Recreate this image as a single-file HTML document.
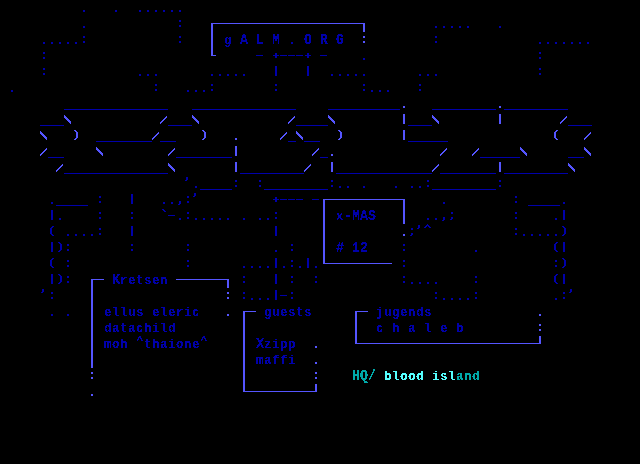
<!DOCTYPE html>
<html lang="en">
<head>
<meta charset="utf-8">
<title>gALM.ORG x-MAS #12</title>
<style>
html,body{margin:0;padding:0;background:#000;}
body{width:640px;height:464px;overflow:hidden;}
svg{display:block;}
text{font-family:"Liberation Mono","DejaVu Sans Mono",monospace;font-weight:bold;font-size:15px;white-space:pre;}
</style>
</head>
<body>
<svg width="640" height="464" viewBox="0 0 640 464">
<rect width="640" height="464" fill="#000"/>
<filter id="px" x="0" y="0" width="640" height="464" filterUnits="userSpaceOnUse" color-interpolation-filters="sRGB"><feComponentTransfer><feFuncA type="discrete" tableValues="0 0 1 1 1"/></feComponentTransfer></filter>
<g fill="#0000aa" shape-rendering="crispEdges">
<rect x="83" y="10" width="2" height="2"/><rect x="115" y="10" width="2" height="2"/><rect x="139" y="10" width="2" height="2"/><rect x="147" y="10" width="2" height="2"/><rect x="155" y="10" width="2" height="2"/><rect x="163" y="10" width="2" height="2"/><rect x="171" y="10" width="2" height="2"/><rect x="179" y="10" width="2" height="2"/><rect x="179" y="20" width="2" height="2"/><rect x="179" y="25" width="2" height="2"/><rect x="83" y="26" width="2" height="2"/><rect x="435" y="26" width="2" height="2"/><rect x="443" y="26" width="2" height="2"/><rect x="451" y="26" width="2" height="2"/><rect x="459" y="26" width="2" height="2"/><rect x="467" y="26" width="2" height="2"/><rect x="499" y="26" width="2" height="2"/><rect x="83" y="36" width="2" height="2"/><rect x="179" y="36" width="2" height="2"/><rect x="435" y="36" width="2" height="2"/><rect x="83" y="41" width="2" height="2"/><rect x="179" y="41" width="2" height="2"/><rect x="435" y="41" width="2" height="2"/><rect x="43" y="42" width="2" height="2"/><rect x="51" y="42" width="2" height="2"/><rect x="59" y="42" width="2" height="2"/><rect x="67" y="42" width="2" height="2"/><rect x="75" y="42" width="2" height="2"/><rect x="539" y="42" width="2" height="2"/><rect x="547" y="42" width="2" height="2"/><rect x="555" y="42" width="2" height="2"/><rect x="563" y="42" width="2" height="2"/><rect x="571" y="42" width="2" height="2"/><rect x="579" y="42" width="2" height="2"/><rect x="587" y="42" width="2" height="2"/><rect x="43" y="52" width="2" height="2"/><rect x="539" y="52" width="2" height="2"/><rect x="275" y="53" width="2" height="2"/><rect x="307" y="53" width="2" height="2"/><rect x="256" y="55" width="7" height="1"/><rect x="273" y="55" width="6" height="1"/><rect x="280" y="55" width="7" height="1"/><rect x="288" y="55" width="7" height="1"/><rect x="296" y="55" width="7" height="1"/><rect x="305" y="55" width="6" height="1"/><rect x="320" y="55" width="7" height="1"/><rect x="275" y="56" width="2" height="2"/><rect x="307" y="56" width="2" height="2"/><rect x="43" y="57" width="2" height="2"/><rect x="539" y="57" width="2" height="2"/><rect x="363" y="58" width="2" height="2"/><rect x="275" y="66" width="2" height="10"/><rect x="307" y="66" width="2" height="10"/><rect x="43" y="68" width="2" height="2"/><rect x="539" y="68" width="2" height="2"/><rect x="43" y="73" width="2" height="2"/><rect x="539" y="73" width="2" height="2"/><rect x="139" y="74" width="2" height="2"/><rect x="147" y="74" width="2" height="2"/><rect x="155" y="74" width="2" height="2"/><rect x="211" y="74" width="2" height="2"/><rect x="219" y="74" width="2" height="2"/><rect x="227" y="74" width="2" height="2"/><rect x="235" y="74" width="2" height="2"/><rect x="243" y="74" width="2" height="2"/><rect x="331" y="74" width="2" height="2"/><rect x="339" y="74" width="2" height="2"/><rect x="347" y="74" width="2" height="2"/><rect x="355" y="74" width="2" height="2"/><rect x="363" y="74" width="2" height="2"/><rect x="419" y="74" width="2" height="2"/><rect x="427" y="74" width="2" height="2"/><rect x="435" y="74" width="2" height="2"/><rect x="155" y="84" width="2" height="2"/><rect x="211" y="84" width="2" height="2"/><rect x="275" y="84" width="2" height="2"/><rect x="363" y="84" width="2" height="2"/><rect x="419" y="84" width="2" height="2"/><rect x="155" y="89" width="2" height="2"/><rect x="211" y="89" width="2" height="2"/><rect x="275" y="89" width="2" height="2"/><rect x="363" y="89" width="2" height="2"/><rect x="419" y="89" width="2" height="2"/><rect x="11" y="90" width="2" height="2"/><rect x="187" y="90" width="2" height="2"/><rect x="195" y="90" width="2" height="2"/><rect x="203" y="90" width="2" height="2"/><rect x="371" y="90" width="2" height="2"/><rect x="379" y="90" width="2" height="2"/><rect x="387" y="90" width="2" height="2"/><rect x="64" y="109" width="104" height="1"/><rect x="192" y="109" width="104" height="1"/><rect x="328" y="109" width="72" height="1"/><rect x="432" y="109" width="64" height="1"/><rect x="504" y="109" width="64" height="1"/><rect x="40" y="125" width="24" height="1"/><rect x="168" y="125" width="24" height="1"/><rect x="296" y="125" width="32" height="1"/><rect x="408" y="125" width="24" height="1"/><rect x="568" y="125" width="24" height="1"/><rect x="96" y="141" width="56" height="1"/><rect x="160" y="141" width="16" height="1"/><rect x="288" y="141" width="8" height="1"/><rect x="304" y="141" width="16" height="1"/><rect x="408" y="141" width="40" height="1"/><rect x="48" y="157" width="16" height="1"/><rect x="176" y="157" width="56" height="1"/><rect x="320" y="157" width="8" height="1"/><rect x="480" y="157" width="40" height="1"/><rect x="568" y="157" width="16" height="1"/><rect x="64" y="173" width="104" height="1"/><rect x="240" y="173" width="64" height="1"/><rect x="336" y="173" width="96" height="1"/><rect x="440" y="173" width="56" height="1"/><rect x="504" y="173" width="64" height="1"/><rect x="186" y="177" width="2" height="3"/><rect x="185" y="180" width="2" height="1"/><rect x="235" y="180" width="2" height="2"/><rect x="259" y="180" width="2" height="2"/><rect x="331" y="180" width="2" height="2"/><rect x="427" y="180" width="2" height="2"/><rect x="499" y="180" width="2" height="2"/><rect x="235" y="185" width="2" height="2"/><rect x="259" y="185" width="2" height="2"/><rect x="331" y="185" width="2" height="2"/><rect x="427" y="185" width="2" height="2"/><rect x="499" y="185" width="2" height="2"/><rect x="195" y="186" width="2" height="2"/><rect x="339" y="186" width="2" height="2"/><rect x="347" y="186" width="2" height="2"/><rect x="363" y="186" width="2" height="2"/><rect x="395" y="186" width="2" height="2"/><rect x="411" y="186" width="2" height="2"/><rect x="419" y="186" width="2" height="2"/><rect x="200" y="189" width="32" height="1"/><rect x="264" y="189" width="64" height="1"/><rect x="432" y="189" width="64" height="1"/><rect x="194" y="193" width="2" height="3"/><rect x="131" y="194" width="2" height="10"/><rect x="99" y="196" width="2" height="2"/><rect x="187" y="196" width="2" height="2"/><rect x="193" y="196" width="2" height="1"/><rect x="515" y="196" width="2" height="2"/><rect x="275" y="197" width="2" height="2"/><rect x="273" y="199" width="6" height="1"/><rect x="280" y="199" width="7" height="1"/><rect x="288" y="199" width="7" height="1"/><rect x="296" y="199" width="7" height="1"/><rect x="312" y="199" width="7" height="1"/><rect x="275" y="200" width="2" height="2"/><rect x="99" y="201" width="2" height="2"/><rect x="179" y="201" width="2" height="3"/><rect x="187" y="201" width="2" height="2"/><rect x="515" y="201" width="2" height="2"/><rect x="51" y="202" width="2" height="2"/><rect x="163" y="202" width="2" height="2"/><rect x="171" y="202" width="2" height="2"/><rect x="443" y="202" width="2" height="2"/><rect x="563" y="202" width="2" height="2"/><rect x="178" y="204" width="2" height="1"/><rect x="56" y="205" width="32" height="1"/><rect x="528" y="205" width="32" height="1"/><rect x="162" y="209" width="2" height="1"/><rect x="51" y="210" width="2" height="10"/><rect x="163" y="210" width="2" height="1"/><rect x="563" y="210" width="2" height="10"/><rect x="164" y="211" width="2" height="1"/><rect x="99" y="212" width="2" height="2"/><rect x="131" y="212" width="2" height="2"/><rect x="187" y="212" width="2" height="2"/><rect x="275" y="212" width="2" height="2"/><rect x="451" y="212" width="2" height="2"/><rect x="515" y="212" width="2" height="2"/><rect x="168" y="215" width="7" height="1"/><rect x="99" y="217" width="2" height="2"/><rect x="131" y="217" width="2" height="2"/><rect x="187" y="217" width="2" height="2"/><rect x="275" y="217" width="2" height="2"/><rect x="443" y="217" width="2" height="3"/><rect x="451" y="217" width="2" height="2"/><rect x="515" y="217" width="2" height="2"/><rect x="59" y="218" width="2" height="2"/><rect x="179" y="218" width="2" height="2"/><rect x="195" y="218" width="2" height="2"/><rect x="203" y="218" width="2" height="2"/><rect x="211" y="218" width="2" height="2"/><rect x="219" y="218" width="2" height="2"/><rect x="227" y="218" width="2" height="2"/><rect x="243" y="218" width="2" height="2"/><rect x="259" y="218" width="2" height="2"/><rect x="267" y="218" width="2" height="2"/><rect x="427" y="218" width="2" height="2"/><rect x="435" y="218" width="2" height="2"/><rect x="555" y="218" width="2" height="2"/><rect x="450" y="219" width="2" height="1"/><rect x="442" y="220" width="2" height="1"/><rect x="427" y="224" width="1" height="1"/><rect x="418" y="225" width="2" height="3"/><rect x="426" y="225" width="3" height="1"/><rect x="52" y="226" width="2" height="1"/><rect x="131" y="226" width="2" height="10"/><rect x="275" y="226" width="2" height="10"/><rect x="425" y="226" width="2" height="1"/><rect x="428" y="226" width="2" height="1"/><rect x="562" y="226" width="2" height="1"/><rect x="51" y="227" width="2" height="1"/><rect x="424" y="227" width="2" height="1"/><rect x="429" y="227" width="2" height="1"/><rect x="563" y="227" width="2" height="1"/><rect x="50" y="228" width="2" height="6"/><rect x="99" y="228" width="2" height="2"/><rect x="411" y="228" width="2" height="2"/><rect x="417" y="228" width="2" height="1"/><rect x="515" y="228" width="2" height="2"/><rect x="564" y="228" width="2" height="6"/><rect x="99" y="233" width="2" height="2"/><rect x="411" y="233" width="2" height="2"/><rect x="515" y="233" width="2" height="2"/><rect x="51" y="234" width="2" height="1"/><rect x="67" y="234" width="2" height="2"/><rect x="75" y="234" width="2" height="2"/><rect x="83" y="234" width="2" height="2"/><rect x="91" y="234" width="2" height="2"/><rect x="523" y="234" width="2" height="2"/><rect x="531" y="234" width="2" height="2"/><rect x="539" y="234" width="2" height="2"/><rect x="547" y="234" width="2" height="2"/><rect x="555" y="234" width="2" height="2"/><rect x="563" y="234" width="2" height="1"/><rect x="52" y="235" width="2" height="1"/><rect x="410" y="235" width="2" height="1"/><rect x="562" y="235" width="2" height="1"/><rect x="51" y="242" width="2" height="10"/><rect x="58" y="242" width="2" height="1"/><rect x="556" y="242" width="2" height="1"/><rect x="563" y="242" width="2" height="10"/><rect x="59" y="243" width="2" height="1"/><rect x="555" y="243" width="2" height="1"/><rect x="60" y="244" width="2" height="6"/><rect x="67" y="244" width="2" height="2"/><rect x="131" y="244" width="2" height="2"/><rect x="187" y="244" width="2" height="2"/><rect x="291" y="244" width="2" height="2"/><rect x="403" y="244" width="2" height="2"/><rect x="554" y="244" width="2" height="6"/><rect x="67" y="249" width="2" height="2"/><rect x="131" y="249" width="2" height="2"/><rect x="187" y="249" width="2" height="2"/><rect x="291" y="249" width="2" height="2"/><rect x="403" y="249" width="2" height="2"/><rect x="59" y="250" width="2" height="1"/><rect x="275" y="250" width="2" height="2"/><rect x="475" y="250" width="2" height="2"/><rect x="555" y="250" width="2" height="1"/><rect x="58" y="251" width="2" height="1"/><rect x="556" y="251" width="2" height="1"/><rect x="52" y="258" width="2" height="1"/><rect x="275" y="258" width="2" height="10"/><rect x="307" y="258" width="2" height="10"/><rect x="562" y="258" width="2" height="1"/><rect x="51" y="259" width="2" height="1"/><rect x="563" y="259" width="2" height="1"/><rect x="50" y="260" width="2" height="6"/><rect x="67" y="260" width="2" height="2"/><rect x="187" y="260" width="2" height="2"/><rect x="291" y="260" width="2" height="2"/><rect x="403" y="260" width="2" height="2"/><rect x="555" y="260" width="2" height="2"/><rect x="564" y="260" width="2" height="6"/><rect x="67" y="265" width="2" height="2"/><rect x="187" y="265" width="2" height="2"/><rect x="291" y="265" width="2" height="2"/><rect x="403" y="265" width="2" height="2"/><rect x="555" y="265" width="2" height="2"/><rect x="51" y="266" width="2" height="1"/><rect x="243" y="266" width="2" height="2"/><rect x="251" y="266" width="2" height="2"/><rect x="259" y="266" width="2" height="2"/><rect x="267" y="266" width="2" height="2"/><rect x="283" y="266" width="2" height="2"/><rect x="299" y="266" width="2" height="2"/><rect x="315" y="266" width="2" height="2"/><rect x="563" y="266" width="2" height="1"/><rect x="52" y="267" width="2" height="1"/><rect x="562" y="267" width="2" height="1"/><rect x="51" y="274" width="2" height="10"/><rect x="58" y="274" width="2" height="1"/><rect x="275" y="274" width="2" height="10"/><rect x="556" y="274" width="2" height="1"/><rect x="563" y="274" width="2" height="10"/><rect x="59" y="275" width="2" height="1"/><rect x="555" y="275" width="2" height="1"/><rect x="60" y="276" width="2" height="6"/><rect x="67" y="276" width="2" height="2"/><rect x="243" y="276" width="2" height="2"/><rect x="291" y="276" width="2" height="2"/><rect x="315" y="276" width="2" height="2"/><rect x="403" y="276" width="2" height="2"/><rect x="475" y="276" width="2" height="2"/><rect x="554" y="276" width="2" height="6"/><rect x="67" y="281" width="2" height="2"/><rect x="243" y="281" width="2" height="2"/><rect x="291" y="281" width="2" height="2"/><rect x="315" y="281" width="2" height="2"/><rect x="403" y="281" width="2" height="2"/><rect x="475" y="281" width="2" height="2"/><rect x="59" y="282" width="2" height="1"/><rect x="411" y="282" width="2" height="2"/><rect x="419" y="282" width="2" height="2"/><rect x="427" y="282" width="2" height="2"/><rect x="435" y="282" width="2" height="2"/><rect x="555" y="282" width="2" height="1"/><rect x="58" y="283" width="2" height="1"/><rect x="556" y="283" width="2" height="1"/><rect x="42" y="289" width="2" height="3"/><rect x="570" y="289" width="2" height="3"/><rect x="275" y="290" width="2" height="10"/><rect x="41" y="292" width="2" height="1"/><rect x="51" y="292" width="2" height="2"/><rect x="243" y="292" width="2" height="2"/><rect x="291" y="292" width="2" height="2"/><rect x="435" y="292" width="2" height="2"/><rect x="475" y="292" width="2" height="2"/><rect x="563" y="292" width="2" height="2"/><rect x="569" y="292" width="2" height="1"/><rect x="280" y="295" width="7" height="1"/><rect x="51" y="297" width="2" height="2"/><rect x="243" y="297" width="2" height="2"/><rect x="291" y="297" width="2" height="2"/><rect x="435" y="297" width="2" height="2"/><rect x="475" y="297" width="2" height="2"/><rect x="563" y="297" width="2" height="2"/><rect x="251" y="298" width="2" height="2"/><rect x="259" y="298" width="2" height="2"/><rect x="267" y="298" width="2" height="2"/><rect x="443" y="298" width="2" height="2"/><rect x="451" y="298" width="2" height="2"/><rect x="459" y="298" width="2" height="2"/><rect x="467" y="298" width="2" height="2"/><rect x="555" y="298" width="2" height="2"/><rect x="51" y="314" width="2" height="2"/><rect x="67" y="314" width="2" height="2"/>
</g>
<g fill="#5555ff" shape-rendering="crispEdges">
<rect x="211" y="23" width="154" height="1"/><rect x="211" y="24" width="2" height="31"/><rect x="363" y="24" width="2" height="8"/><rect x="363" y="36" width="2" height="2"/><rect x="363" y="41" width="2" height="2"/><rect x="211" y="55" width="5" height="1"/><rect x="403" y="106" width="2" height="2"/><rect x="499" y="106" width="2" height="2"/><rect x="403" y="114" width="2" height="10"/><rect x="499" y="114" width="2" height="10"/><rect x="64" y="115" width="1" height="1"/><rect x="192" y="115" width="1" height="1"/><rect x="328" y="115" width="1" height="1"/><rect x="432" y="115" width="1" height="1"/><rect x="64" y="116" width="2" height="1"/><rect x="166" y="116" width="1" height="1"/><rect x="192" y="116" width="2" height="1"/><rect x="294" y="116" width="1" height="1"/><rect x="328" y="116" width="2" height="1"/><rect x="432" y="116" width="2" height="1"/><rect x="566" y="116" width="1" height="1"/><rect x="64" y="117" width="3" height="1"/><rect x="165" y="117" width="2" height="1"/><rect x="192" y="117" width="3" height="1"/><rect x="293" y="117" width="2" height="1"/><rect x="328" y="117" width="3" height="1"/><rect x="432" y="117" width="3" height="1"/><rect x="565" y="117" width="2" height="1"/><rect x="65" y="118" width="3" height="1"/><rect x="164" y="118" width="2" height="1"/><rect x="193" y="118" width="3" height="1"/><rect x="292" y="118" width="2" height="1"/><rect x="329" y="118" width="3" height="1"/><rect x="433" y="118" width="3" height="1"/><rect x="564" y="118" width="2" height="1"/><rect x="66" y="119" width="3" height="1"/><rect x="163" y="119" width="2" height="1"/><rect x="194" y="119" width="3" height="1"/><rect x="291" y="119" width="2" height="1"/><rect x="330" y="119" width="3" height="1"/><rect x="434" y="119" width="3" height="1"/><rect x="563" y="119" width="2" height="1"/><rect x="67" y="120" width="3" height="1"/><rect x="162" y="120" width="2" height="1"/><rect x="195" y="120" width="3" height="1"/><rect x="290" y="120" width="2" height="1"/><rect x="331" y="120" width="3" height="1"/><rect x="435" y="120" width="3" height="1"/><rect x="562" y="120" width="2" height="1"/><rect x="68" y="121" width="3" height="1"/><rect x="161" y="121" width="2" height="1"/><rect x="196" y="121" width="3" height="1"/><rect x="289" y="121" width="2" height="1"/><rect x="332" y="121" width="3" height="1"/><rect x="436" y="121" width="3" height="1"/><rect x="561" y="121" width="2" height="1"/><rect x="69" y="122" width="2" height="1"/><rect x="160" y="122" width="2" height="1"/><rect x="197" y="122" width="2" height="1"/><rect x="288" y="122" width="2" height="1"/><rect x="333" y="122" width="2" height="1"/><rect x="437" y="122" width="2" height="1"/><rect x="560" y="122" width="2" height="1"/><rect x="70" y="123" width="1" height="1"/><rect x="160" y="123" width="1" height="1"/><rect x="198" y="123" width="1" height="1"/><rect x="288" y="123" width="1" height="1"/><rect x="334" y="123" width="1" height="1"/><rect x="438" y="123" width="1" height="1"/><rect x="560" y="123" width="1" height="1"/><rect x="74" y="130" width="2" height="1"/><rect x="202" y="130" width="2" height="1"/><rect x="338" y="130" width="2" height="1"/><rect x="403" y="130" width="2" height="10"/><rect x="556" y="130" width="2" height="1"/><rect x="40" y="131" width="1" height="1"/><rect x="75" y="131" width="2" height="1"/><rect x="203" y="131" width="2" height="1"/><rect x="296" y="131" width="1" height="1"/><rect x="339" y="131" width="2" height="1"/><rect x="555" y="131" width="2" height="1"/><rect x="40" y="132" width="2" height="1"/><rect x="76" y="132" width="2" height="6"/><rect x="158" y="132" width="1" height="1"/><rect x="204" y="132" width="2" height="6"/><rect x="286" y="132" width="1" height="1"/><rect x="296" y="132" width="2" height="1"/><rect x="340" y="132" width="2" height="6"/><rect x="554" y="132" width="2" height="6"/><rect x="590" y="132" width="1" height="1"/><rect x="40" y="133" width="3" height="1"/><rect x="157" y="133" width="2" height="1"/><rect x="285" y="133" width="2" height="1"/><rect x="296" y="133" width="3" height="1"/><rect x="589" y="133" width="2" height="1"/><rect x="41" y="134" width="3" height="1"/><rect x="156" y="134" width="2" height="1"/><rect x="284" y="134" width="2" height="1"/><rect x="297" y="134" width="3" height="1"/><rect x="588" y="134" width="2" height="1"/><rect x="42" y="135" width="3" height="1"/><rect x="155" y="135" width="2" height="1"/><rect x="283" y="135" width="2" height="1"/><rect x="298" y="135" width="3" height="1"/><rect x="587" y="135" width="2" height="1"/><rect x="43" y="136" width="3" height="1"/><rect x="154" y="136" width="2" height="1"/><rect x="282" y="136" width="2" height="1"/><rect x="299" y="136" width="3" height="1"/><rect x="586" y="136" width="2" height="1"/><rect x="44" y="137" width="3" height="1"/><rect x="153" y="137" width="2" height="1"/><rect x="281" y="137" width="2" height="1"/><rect x="300" y="137" width="3" height="1"/><rect x="585" y="137" width="2" height="1"/><rect x="45" y="138" width="2" height="1"/><rect x="75" y="138" width="2" height="1"/><rect x="152" y="138" width="2" height="1"/><rect x="203" y="138" width="2" height="1"/><rect x="235" y="138" width="2" height="2"/><rect x="280" y="138" width="2" height="1"/><rect x="301" y="138" width="2" height="1"/><rect x="339" y="138" width="2" height="1"/><rect x="555" y="138" width="2" height="1"/><rect x="584" y="138" width="2" height="1"/><rect x="46" y="139" width="1" height="1"/><rect x="74" y="139" width="2" height="1"/><rect x="152" y="139" width="1" height="1"/><rect x="202" y="139" width="2" height="1"/><rect x="280" y="139" width="1" height="1"/><rect x="302" y="139" width="1" height="1"/><rect x="338" y="139" width="2" height="1"/><rect x="556" y="139" width="2" height="1"/><rect x="584" y="139" width="1" height="1"/><rect x="235" y="146" width="2" height="10"/><rect x="96" y="147" width="1" height="1"/><rect x="520" y="147" width="1" height="1"/><rect x="584" y="147" width="1" height="1"/><rect x="46" y="148" width="1" height="1"/><rect x="96" y="148" width="2" height="1"/><rect x="174" y="148" width="1" height="1"/><rect x="318" y="148" width="1" height="1"/><rect x="446" y="148" width="1" height="1"/><rect x="478" y="148" width="1" height="1"/><rect x="520" y="148" width="2" height="1"/><rect x="584" y="148" width="2" height="1"/><rect x="45" y="149" width="2" height="1"/><rect x="96" y="149" width="3" height="1"/><rect x="173" y="149" width="2" height="1"/><rect x="317" y="149" width="2" height="1"/><rect x="445" y="149" width="2" height="1"/><rect x="477" y="149" width="2" height="1"/><rect x="520" y="149" width="3" height="1"/><rect x="584" y="149" width="3" height="1"/><rect x="44" y="150" width="2" height="1"/><rect x="97" y="150" width="3" height="1"/><rect x="172" y="150" width="2" height="1"/><rect x="316" y="150" width="2" height="1"/><rect x="444" y="150" width="2" height="1"/><rect x="476" y="150" width="2" height="1"/><rect x="521" y="150" width="3" height="1"/><rect x="585" y="150" width="3" height="1"/><rect x="43" y="151" width="2" height="1"/><rect x="98" y="151" width="3" height="1"/><rect x="171" y="151" width="2" height="1"/><rect x="315" y="151" width="2" height="1"/><rect x="443" y="151" width="2" height="1"/><rect x="475" y="151" width="2" height="1"/><rect x="522" y="151" width="3" height="1"/><rect x="586" y="151" width="3" height="1"/><rect x="42" y="152" width="2" height="1"/><rect x="99" y="152" width="3" height="1"/><rect x="170" y="152" width="2" height="1"/><rect x="314" y="152" width="2" height="1"/><rect x="442" y="152" width="2" height="1"/><rect x="474" y="152" width="2" height="1"/><rect x="523" y="152" width="3" height="1"/><rect x="587" y="152" width="3" height="1"/><rect x="41" y="153" width="2" height="1"/><rect x="100" y="153" width="3" height="1"/><rect x="169" y="153" width="2" height="1"/><rect x="313" y="153" width="2" height="1"/><rect x="441" y="153" width="2" height="1"/><rect x="473" y="153" width="2" height="1"/><rect x="524" y="153" width="3" height="1"/><rect x="588" y="153" width="3" height="1"/><rect x="40" y="154" width="2" height="1"/><rect x="101" y="154" width="2" height="1"/><rect x="168" y="154" width="2" height="1"/><rect x="312" y="154" width="2" height="1"/><rect x="331" y="154" width="2" height="2"/><rect x="440" y="154" width="2" height="1"/><rect x="472" y="154" width="2" height="1"/><rect x="525" y="154" width="2" height="1"/><rect x="589" y="154" width="2" height="1"/><rect x="40" y="155" width="1" height="1"/><rect x="102" y="155" width="1" height="1"/><rect x="168" y="155" width="1" height="1"/><rect x="312" y="155" width="1" height="1"/><rect x="440" y="155" width="1" height="1"/><rect x="472" y="155" width="1" height="1"/><rect x="526" y="155" width="1" height="1"/><rect x="590" y="155" width="1" height="1"/><rect x="235" y="162" width="2" height="10"/><rect x="331" y="162" width="2" height="10"/><rect x="499" y="162" width="2" height="10"/><rect x="168" y="163" width="1" height="1"/><rect x="568" y="163" width="1" height="1"/><rect x="62" y="164" width="1" height="1"/><rect x="168" y="164" width="2" height="1"/><rect x="310" y="164" width="1" height="1"/><rect x="438" y="164" width="1" height="1"/><rect x="568" y="164" width="2" height="1"/><rect x="61" y="165" width="2" height="1"/><rect x="168" y="165" width="3" height="1"/><rect x="309" y="165" width="2" height="1"/><rect x="437" y="165" width="2" height="1"/><rect x="568" y="165" width="3" height="1"/><rect x="60" y="166" width="2" height="1"/><rect x="169" y="166" width="3" height="1"/><rect x="308" y="166" width="2" height="1"/><rect x="436" y="166" width="2" height="1"/><rect x="569" y="166" width="3" height="1"/><rect x="59" y="167" width="2" height="1"/><rect x="170" y="167" width="3" height="1"/><rect x="307" y="167" width="2" height="1"/><rect x="435" y="167" width="2" height="1"/><rect x="570" y="167" width="3" height="1"/><rect x="58" y="168" width="2" height="1"/><rect x="171" y="168" width="3" height="1"/><rect x="306" y="168" width="2" height="1"/><rect x="434" y="168" width="2" height="1"/><rect x="571" y="168" width="3" height="1"/><rect x="57" y="169" width="2" height="1"/><rect x="172" y="169" width="3" height="1"/><rect x="305" y="169" width="2" height="1"/><rect x="433" y="169" width="2" height="1"/><rect x="572" y="169" width="3" height="1"/><rect x="56" y="170" width="2" height="1"/><rect x="173" y="170" width="2" height="1"/><rect x="304" y="170" width="2" height="1"/><rect x="432" y="170" width="2" height="1"/><rect x="573" y="170" width="2" height="1"/><rect x="56" y="171" width="1" height="1"/><rect x="174" y="171" width="1" height="1"/><rect x="304" y="171" width="1" height="1"/><rect x="432" y="171" width="1" height="1"/><rect x="574" y="171" width="1" height="1"/><rect x="323" y="199" width="82" height="1"/><rect x="323" y="200" width="2" height="63"/><rect x="403" y="200" width="2" height="24"/><rect x="403" y="234" width="2" height="2"/><rect x="323" y="263" width="69" height="1"/><rect x="91" y="279" width="13" height="1"/><rect x="176" y="279" width="53" height="1"/><rect x="91" y="280" width="2" height="88"/><rect x="227" y="280" width="2" height="8"/><rect x="227" y="292" width="2" height="2"/><rect x="227" y="297" width="2" height="2"/><rect x="243" y="311" width="13" height="1"/><rect x="355" y="311" width="13" height="1"/><rect x="243" y="312" width="2" height="79"/><rect x="355" y="312" width="2" height="31"/><rect x="227" y="314" width="2" height="2"/><rect x="539" y="314" width="2" height="2"/><rect x="539" y="324" width="2" height="2"/><rect x="539" y="329" width="2" height="2"/><rect x="539" y="336" width="2" height="7"/><rect x="355" y="343" width="186" height="1"/><rect x="315" y="346" width="2" height="2"/><rect x="315" y="362" width="2" height="2"/><rect x="91" y="372" width="2" height="2"/><rect x="315" y="372" width="2" height="2"/><rect x="91" y="377" width="2" height="2"/><rect x="315" y="377" width="2" height="2"/><rect x="315" y="384" width="2" height="7"/><rect x="243" y="391" width="74" height="1"/><rect x="91" y="394" width="2" height="2"/>
</g>
<g filter="url(#px)">
<text xml:space="preserve" transform="scale(0.88,1)" x="254.43 263.52 272.61 281.70 290.80 299.89 308.98 318.07 327.16 336.25 345.34 354.43 363.52 372.61 381.70" y="44"><tspan fill="#0000aa" font-size="13.6">g </tspan><tspan fill="#0000aa" font-size="15">A L M . O R G</tspan></text>
<text xml:space="preserve" transform="scale(0.88,1)" x="381.70 390.80 399.89 408.98 418.07" y="220"><tspan fill="#0000aa" font-size="13.6">x</tspan><tspan fill="#0000aa" font-size="15">-MAS</tspan></text>
<text xml:space="preserve" transform="scale(0.88,1)" x="381.70 390.80 399.89 408.98" y="252"><tspan fill="#0000aa" font-size="15"># 12</tspan></text>
<text xml:space="preserve" transform="scale(0.92,1)" x="121.63 130.33 139.02 147.72 156.41 165.11 173.80" y="284"><tspan fill="#0000aa" font-size="15">K</tspan><tspan fill="#0000aa" font-size="13.6">retsen</tspan></text>
<text xml:space="preserve" transform="scale(0.92,1)" x="112.93 121.63 130.33 139.02 147.72 156.41 165.11 173.80 182.50 191.20 199.89 208.59" y="316"><tspan fill="#0000aa" font-size="13.6">ellus eleric</tspan></text>
<text xml:space="preserve" transform="scale(0.92,1)" x="286.85 295.54 304.24 312.93 321.63 330.33" y="316"><tspan fill="#0000aa" font-size="13.6">guests</tspan></text>
<text xml:space="preserve" transform="scale(0.92,1)" x="408.59 417.28 425.98 434.67 443.37 452.07 460.76" y="316"><tspan fill="#0000aa" font-size="13.6">jugends</tspan></text>
<text xml:space="preserve" transform="scale(0.92,1)" x="112.93 121.63 130.33 139.02 147.72 156.41 165.11 173.80 182.50" y="332"><tspan fill="#0000aa" font-size="13.6">datachild</tspan></text>
<text xml:space="preserve" transform="scale(0.92,1)" x="408.59 417.28 425.98 434.67 443.37 452.07 460.76 469.46 478.15 486.85 495.54" y="332"><tspan fill="#0000aa" font-size="13.6">c h a l e b</tspan></text>
<text xml:space="preserve" transform="scale(0.92,1)" x="112.93 121.63 130.33 139.02 148.59 156.41 165.11 173.80 182.50 191.20 199.89 208.59 218.15" y="348.0 348.0 348.0 348.0 344.4 348.0 348.0 348.0 348.0 348.0 348.0 348.0 344.4"><tspan fill="#0000aa" font-size="13.6">moh </tspan><tspan fill="#0000aa" font-size="11.5">^</tspan><tspan fill="#0000aa" font-size="13.6">thaione</tspan><tspan fill="#0000aa" font-size="11.5">^</tspan></text>
<text xml:space="preserve" transform="scale(0.92,1)" x="278.15 286.85 295.54 304.24 312.93" y="348"><tspan fill="#0000aa" font-size="15">X</tspan><tspan fill="#0000aa" font-size="13.6">zipp</tspan></text>
<text xml:space="preserve" transform="scale(0.92,1)" x="278.15 286.85 295.54 304.24 312.93" y="364"><tspan fill="#0000aa" font-size="13.6">maffi</tspan></text>
<text xml:space="preserve" transform="scale(0.88,1)" x="399.89 408.98 418.07 427.16" y="380"><tspan fill="#00aaaa" font-size="15">HQ/ </tspan></text>
<text xml:space="preserve" transform="scale(0.92,1)" x="417.28 425.98 434.67 443.37 452.07 460.76 469.46 478.15 486.85 495.54 504.24 512.93" y="380"><tspan fill="#55ffff" font-size="13.6">blood isl</tspan><tspan fill="#00aaaa" font-size="13.6">and</tspan></text>
</g>
</svg>
</body>
</html>
